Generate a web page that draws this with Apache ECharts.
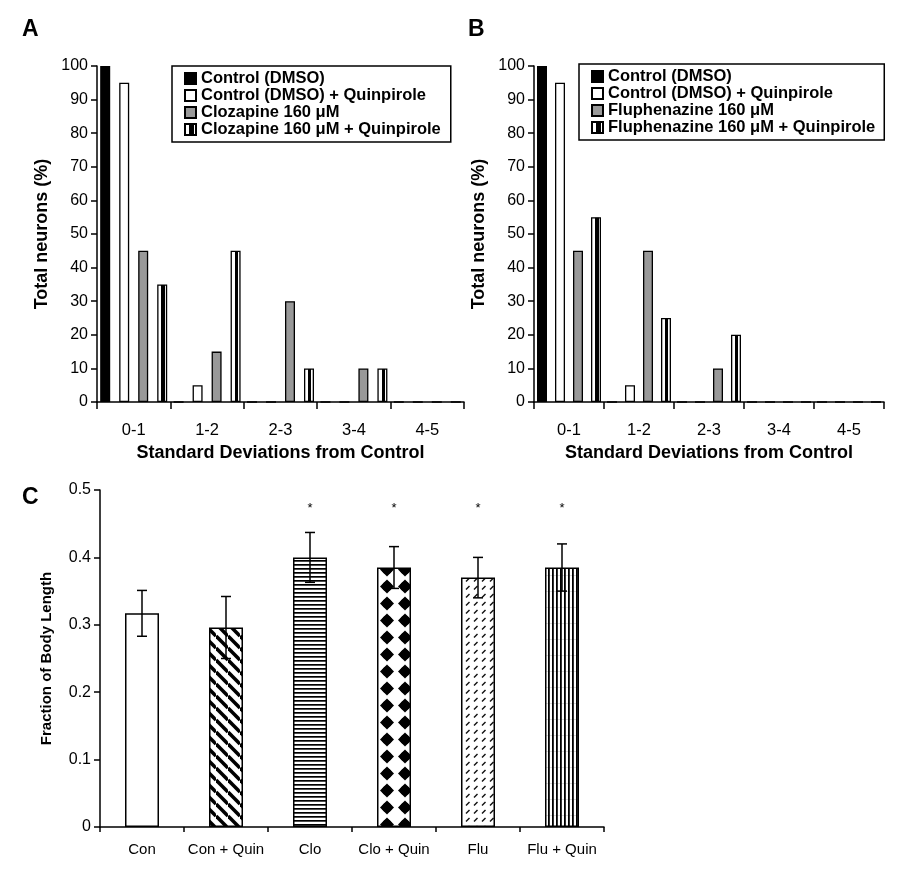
<!DOCTYPE html>
<html>
<head>
<meta charset="utf-8">
<script src="https://cdn.jsdelivr.net/npm/echarts@6/dist/echarts.min.js"></script>
<style>
  html, body { margin: 0; padding: 0; background: #fff; }
  #chart { width: 921px; height: 877px; }
</style>
</head>
<body>
<div id="chart"></div>
<script>
// ---- data ----
const sdBins = ['0-1', '1-2', '2-3', '3-4', '4-5'];

// panel A
const aNames = ['Control (DMSO)', 'Control (DMSO) + Quinpirole', 'Clozapine 160 μM', 'Clozapine 160 μM + Quinpirole'];
const aControl = [100, 0, 0, 0, 0];
const aControlQuin = [95, 5, 0, 0, 0];
const aClozapine = [45, 15, 30, 10, 0];
const aClozapineQuin = [35, 45, 10, 10, 0];

// panel B
const bNames = ['Control (DMSO)', 'Control (DMSO) + Quinpirole', 'Fluphenazine 160 μM', 'Fluphenazine 160 μM + Quinpirole'];
const bControl = [100, 0, 0, 0, 0];
const bControlQuin = [95, 5, 0, 0, 0];
const bFluphenazine = [45, 45, 10, 0, 0];
const bFluphenazineQuin = [55, 25, 20, 0, 0];

// panel C
const groups = ['Con', 'Con + Quin', 'Clo', 'Clo + Quin', 'Flu', 'Flu + Quin'];
const bodyLength = [0.317, 0.296, 0.400, 0.385, 0.370, 0.385];
const bodyLengthErr = [0.034, 0.046, 0.037, 0.031, 0.030, 0.035];
const significant = [false, false, true, true, true, true];
const starLevel = 0.473;

// ---- styles ----
const FONT = 'Arial, "Liberation Sans", sans-serif';

function makePattern(w, h, draw) {
    const c = document.createElement('canvas');
    c.width = w; c.height = h;
    const ctx = c.getContext('2d');
    ctx.fillStyle = '#fff';
    ctx.fillRect(0, 0, w, h);
    draw(ctx);
    return { image: c, repeat: 'repeat' };
}

const stripeFill = new echarts.graphic.LinearGradient(0, 0, 1, 0, [
    { offset: 0, color: '#fff' }, { offset: 0.42, color: '#fff' },
    { offset: 0.42, color: '#000' }, { offset: 0.75, color: '#000' },
    { offset: 0.75, color: '#fff' }, { offset: 1, color: '#fff' }
]);
const fills = ['#000', '#fff', '#999', stripeFill];

const patterns = [
    '#fff',
    makePattern(12, 12, ctx => {
        ctx.strokeStyle = '#000'; ctx.lineWidth = 3.6;
        for (let k = -1; k <= 1; k++) {
            ctx.beginPath(); ctx.moveTo(0, k * 12); ctx.lineTo(12, 12 + k * 12); ctx.stroke();
        }
    }),
    makePattern(4, 4, ctx => { ctx.fillStyle = '#000'; ctx.fillRect(0, 0, 4, 1.7); }),
    makePattern(18, 17, ctx => {
        ctx.fillStyle = '#000';
        ctx.beginPath();
        ctx.moveTo(9, 1.5); ctx.lineTo(16, 8.5); ctx.lineTo(9, 15.5); ctx.lineTo(2, 8.5); ctx.closePath();
        ctx.fill();
        ctx.beginPath(); ctx.arc(9, 8.5, 5, 0, Math.PI * 2); ctx.fill();
    }),
    makePattern(8, 8, ctx => {
        ctx.strokeStyle = '#111'; ctx.lineWidth = 1.5;
        ctx.beginPath(); ctx.moveTo(2, 5.5); ctx.lineTo(5.5, 2); ctx.stroke();
    }),
    makePattern(4, 16, ctx => {
        ctx.fillStyle = '#ddd'; ctx.fillRect(0, 15, 4, 1);
        ctx.fillStyle = '#000'; ctx.fillRect(0, 0, 1.8, 16);
    })
];

const axisLine = { show: true, lineStyle: { color: '#000', width: 1.5 } };
const axisTick = { show: true, length: 6, lineStyle: { color: '#000', width: 1.5 } };

function histX(gridIndex) {
    return {
        type: 'category', gridIndex, data: sdBins,
        axisLine, axisTick: Object.assign({}, axisTick, { length: 7 }),
        axisLabel: { color: '#000', fontFamily: FONT, fontSize: 16.5, margin: 20 },
        name: 'Standard Deviations from Control', nameLocation: 'middle', nameGap: 42,
        nameTextStyle: { color: '#000', fontFamily: FONT, fontSize: 18, fontWeight: 'bold' }
    };
}
function histY(gridIndex) {
    return {
        type: 'value', gridIndex, min: 0, max: 100, interval: 10,
        axisLine, axisTick, splitLine: { show: false },
        axisLabel: { color: '#000', fontFamily: FONT, fontSize: 16, margin: 9 },
        name: 'Total neurons (%)', nameLocation: 'middle', nameGap: 46,
        nameTextStyle: { color: '#000', fontFamily: FONT, fontSize: 18, fontWeight: 'bold' }
    };
}
function histSeries(names, values, axisIndex, gap) {
    return values.map((v, i) => ({
        type: 'bar', name: names[i], data: v,
        xAxisIndex: axisIndex, yAxisIndex: axisIndex,
        barWidth: 10, barGap: gap,
        itemStyle: { color: fills[i], borderColor: '#000', borderWidth: 1.3 }
    }));
}
function histLegend(names, left, top, padRight) {
    return {
        data: names, left, top, orient: 'vertical', selectedMode: false, icon: 'rect',
        itemWidth: 11, itemHeight: 11, itemGap: 0,
        borderColor: '#000', borderWidth: 1.5, padding: [4, padRight, 4, 12],
        textStyle: { color: '#000', fontFamily: FONT, fontSize: 16.5, fontWeight: 'bold', lineHeight: 16.5 }
    };
}

const chart = echarts.init(document.getElementById('chart'));
chart.setOption({
    animation: false,
    backgroundColor: '#fff',
    grid: [
        { left: 97, top: 66, width: 367, height: 336 },
        { left: 534, top: 66, width: 350, height: 336 },
        { left: 100, top: 490, width: 504, height: 337 }
    ],
    legend: [
        histLegend(aNames, 172, 66, 10),
        histLegend(bNames, 579, 64, 9)
    ],
    xAxis: [
        histX(0), histX(1),
        {
            type: 'category', gridIndex: 2, data: groups,
            axisLine, axisTick: Object.assign({}, axisTick, { length: 5, interval: 0 }),
            axisLabel: { color: '#000', fontFamily: FONT, fontSize: 15, margin: 15, interval: 0 }
        }
    ],
    yAxis: [
        histY(0), histY(1),
        {
            type: 'value', gridIndex: 2, min: 0, max: 0.5, interval: 0.1,
            axisLine, axisTick, splitLine: { show: false },
            axisLabel: { color: '#000', fontFamily: FONT, fontSize: 16, margin: 9 },
            name: 'Fraction of Body Length', nameLocation: 'middle', nameGap: 46,
            nameTextStyle: { color: '#000', fontFamily: FONT, fontSize: 15, fontWeight: 'bold' }
        }
    ],
    graphic: [
        { type: 'text', left: 22, top: 18, style: { text: 'A', font: 'bold 23px ' + FONT, fill: '#000' } },
        { type: 'text', left: 468, top: 18, style: { text: 'B', font: 'bold 23px ' + FONT, fill: '#000' } },
        { type: 'text', left: 22, top: 486, style: { text: 'C', font: 'bold 23px ' + FONT, fill: '#000' } }
    ],
    series: [
        ...histSeries(aNames, [aControl, aControlQuin, aClozapine, aClozapineQuin], 0, '90%'),
        ...histSeries(bNames, [bControl, bControlQuin, bFluphenazine, bFluphenazineQuin], 1, '80%'),
        {
            type: 'bar', xAxisIndex: 2, yAxisIndex: 2, barWidth: 34,
            data: bodyLength.map((v, i) => ({
                value: v,
                itemStyle: { color: patterns[i], borderColor: '#000', borderWidth: 1.5 }
            }))
        },
        {
            type: 'custom', xAxisIndex: 2, yAxisIndex: 2, z: 5,
            data: bodyLength.map((v, i) => [i, v - bodyLengthErr[i], v + bodyLengthErr[i]]),
            renderItem: (params, api) => {
                const lo = api.coord([api.value(0), api.value(1)]);
                const hi = api.coord([api.value(0), api.value(2)]);
                const st = { stroke: '#000', lineWidth: 1.5 };
                return {
                    type: 'group', children: [
                        { type: 'line', shape: { x1: hi[0], y1: hi[1], x2: lo[0], y2: lo[1] }, style: st },
                        { type: 'line', shape: { x1: hi[0] - 5, y1: hi[1], x2: hi[0] + 5, y2: hi[1] }, style: st },
                        { type: 'line', shape: { x1: lo[0] - 5, y1: lo[1], x2: lo[0] + 5, y2: lo[1] }, style: st }
                    ]
                };
            }
        },
        {
            type: 'custom', xAxisIndex: 2, yAxisIndex: 2, z: 5,
            data: groups.map((g, i) => [i, starLevel]).filter((d, i) => significant[i]),
            renderItem: (params, api) => {
                const p = api.coord([api.value(0), api.value(1)]);
                return {
                    type: 'text', x: p[0], y: p[1],
                    style: { text: '*', font: '13px ' + FONT, fill: '#000', align: 'center', verticalAlign: 'middle' }
                };
            }
        }
    ]
});
</script>
</body>
</html>
